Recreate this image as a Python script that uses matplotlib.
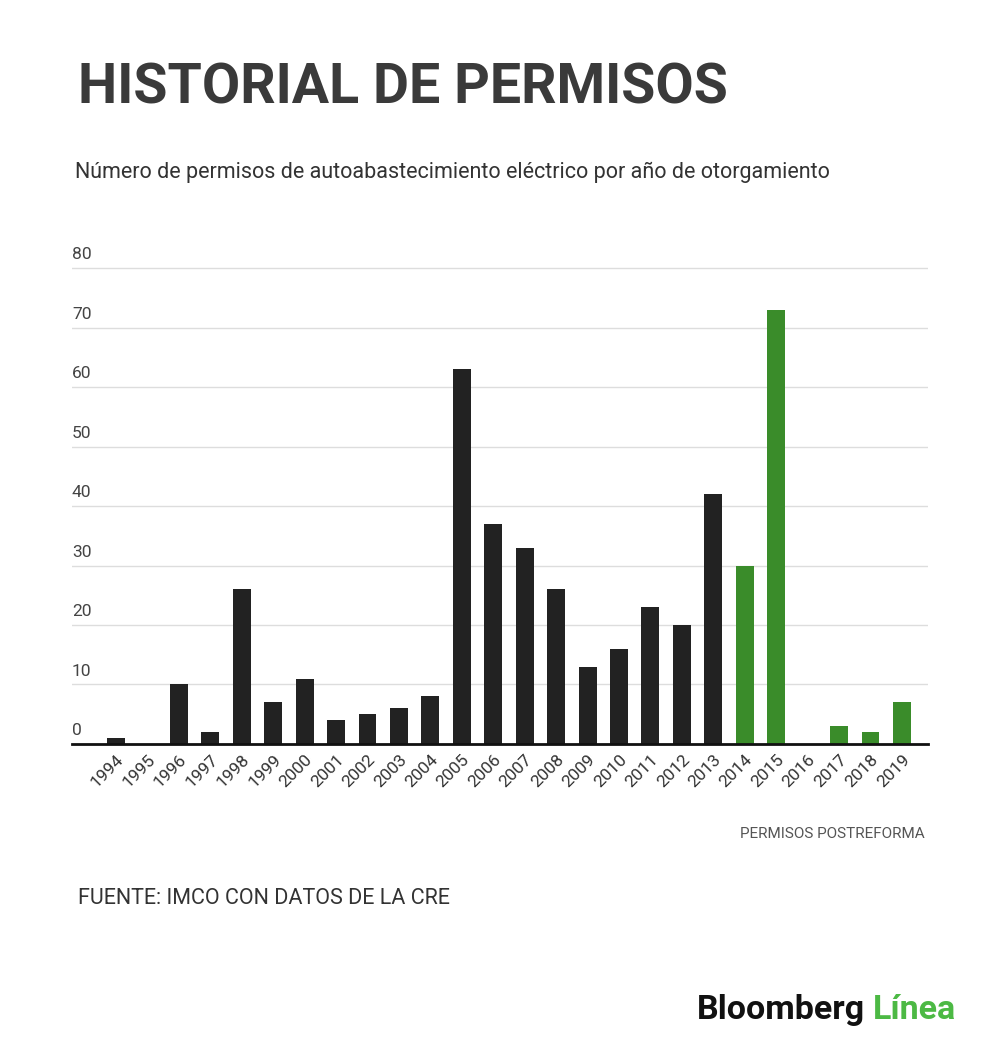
import numpy as np
import matplotlib.pyplot as plt
import matplotlib.transforms as mtransforms

plt.rcParams['font.family'] = ['Roboto', 'DejaVu Sans']

years = ['1994', '1995', '1996', '1997', '1998', '1999', '2000', '2001', '2002',
         '2003', '2004', '2005', '2006', '2007', '2008', '2009', '2010', '2011',
         '2012', '2013', '2014', '2015', '2016', '2017', '2018', '2019']
permisos = [1, 0, 10, 2, 26, 7, 11, 4, 5, 6, 8, 63, 37, 33, 26, 13, 16, 23,
            20, 42, 30, 73, 0, 3, 2, 7]
first_post = '2014'  # postreforma years are green
y_ticks = [0, 10, 20, 30, 40, 50, 60, 70, 80]

dark = '#222222'
green = '#3a8c2a'
colors = [green if y >= first_post else dark for y in years]

fig = plt.figure(figsize=(10, 10.52), dpi=100)
ax = fig.add_axes([0.072, 0.2928, 0.856, 0.458])

x = np.arange(len(years))
ax.bar(x, permisos, width=0.57, color=colors, zorder=3)

ax.set_xlim(-1.4, len(years) - 1 + 0.83)
ax.set_ylim(0, 81)
for yv in y_ticks[1:]:
    ax.axhline(yv, color='#dddddd', lw=1, zorder=1)
ax.set_yticks([])

# y labels sit above the gridlines, inside the plot
trans = mtransforms.blended_transform_factory(ax.transAxes, ax.transData)
for yv in y_ticks:
    ax.text(0.0, yv + 1.0, str(yv), transform=trans, ha='left', va='bottom',
            fontsize=12.5, color='#444444')

ax.set_xticks(x)
ax.set_xticklabels(years, rotation=45, ha='right', rotation_mode='anchor',
                   fontsize=12.5, color='#333333')
ax.tick_params(axis='x', length=0, pad=6)
for s in ['top', 'right', 'left']:
    ax.spines[s].set_visible(False)
ax.spines['bottom'].set_linewidth(2)
ax.spines['bottom'].set_color('#111111')
ax.spines['bottom'].set_zorder(4)

fig.text(0.078, 0.916, 'HISTORIAL DE PERMISOS', fontsize=40, fontweight='bold',
         color='#3a3a3a', ha='left', va='center')
fig.text(0.075, 0.836, 'Número de permisos de autoabastecimiento eléctrico por año de otorgamiento',
         fontsize=15.5, color='#333333', ha='left', va='center')
fig.text(0.925, 0.207, 'PERMISOS POSTREFORMA', fontsize=11, color='#555555',
         ha='right', va='center')
fig.text(0.078, 0.146, 'FUENTE: IMCO CON DATOS DE LA CRE', fontsize=15.5, color='#333333',
         ha='left', va='center')

# logo text
t = fig.text(0.697, 0.04, 'Bloomberg', fontsize=24.5, fontweight='bold', color='#111111',
             ha='left', va='center')
fig.canvas.draw()
bb = t.get_window_extent().transformed(fig.transFigure.inverted())
fig.text(bb.x1 + 0.008, 0.04, 'Línea', fontsize=24.5, fontweight='bold', color='#4cb944',
         ha='left', va='center')

plt.savefig('out.png', dpi=100)
